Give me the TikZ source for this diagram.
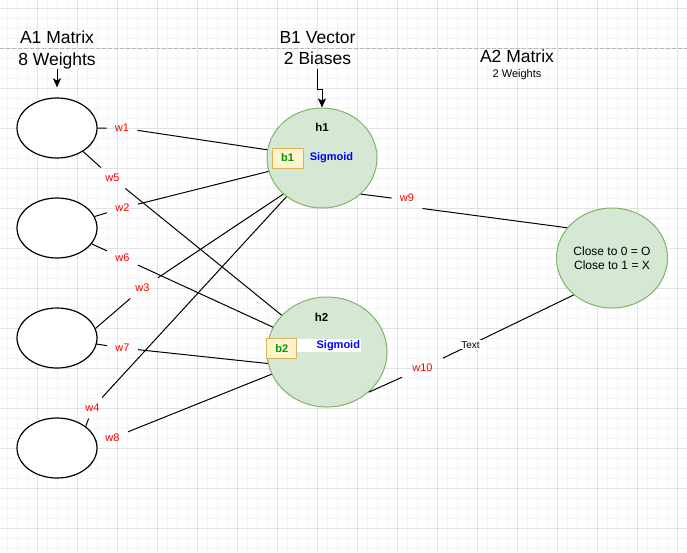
\documentclass[tikz,border=0pt]{standalone}
\usepackage{fontspec}
\setmainfont{Liberation Sans}
\usetikzlibrary{arrows.meta, shapes.geometric}
\definecolor{cgreen}{HTML}{D5E8D4}
\definecolor{cgreenline}{HTML}{82B366}
\definecolor{cyellow}{HTML}{FFF2CC}
\definecolor{cyellowline}{HTML}{D6B656}
\definecolor{cbias}{HTML}{009900}
\definecolor{cred}{HTML}{FF0000}
\definecolor{cblue}{HTML}{0000FF}
\definecolor{cgridmajor}{HTML}{E2E2E2}
\definecolor{cgridminor}{HTML}{F4F4F4}
\definecolor{cpage}{HTML}{B8B8B8}
\tikzset{
  every picture/.style={x=1pt, y=-1pt, line width=1pt},
  inputcell/.style={ellipse, draw=black, fill=white, line width=1.2pt, minimum width=80pt, minimum height=60pt, inner sep=0pt},
  neuron/.style={ellipse, draw=cgreenline, fill=cgreen, align=center, inner sep=0pt, font=\fontsize{12}{14.5}\selectfont},
  biasbox/.style={draw=cyellowline, fill=cyellow, text=cbias, font=\fontsize{11}{13}\selectfont\bfseries, minimum width=31pt, minimum height=20pt, inner sep=0pt},
  sigmoid/.style={text=cblue, font=\fontsize{11}{13}\selectfont\bfseries, inner sep=0pt},
  hname/.style={font=\fontsize{11.5}{13}\selectfont\bfseries, inner sep=0pt},
  weight/.style={text=cred, font=\fontsize{11}{13}\selectfont, minimum width=30pt, minimum height=20pt, inner sep=0pt},
  title/.style={font=\fontsize{17.5}{21.5}\selectfont, align=center, inner sep=0pt},
  conn/.style={draw=black, line width=1pt},
  arrow/.style={-{Stealth[length=9pt, width=8pt, inset=2pt]}, line width=1pt},
}

\begin{document}
\begin{tikzpicture}
  \useasboundingbox (0,0) rectangle (687,552);
  \fill[white] (0,0) rectangle (687,552);
  % page grid, 10px minor and 40px major
  \foreach \x in {7,17,...,687} \draw[cgridminor] (\x,0) -- (\x,552);
  \foreach \y in {8,18,...,548} \draw[cgridminor] (0,\y) -- (687,\y);
  \foreach \x in {37,77,...,677} \draw[cgridmajor] (\x,0) -- (\x,552);
  \foreach \y in {8,48,...,528} \draw[cgridmajor] (0,\y) -- (687,\y);
  \draw[cpage, dash pattern=on 4pt off 2pt] (0,48) -- (687,48);

  \node[title, anchor=north] (a1lbl) at (57,30.5) {A1 Matrix\\8 Weights};
  \node[title, anchor=north] (b1lbl) at (317.5,30.5) {B1 Vector\\2 Biases};
  \node[title] (a2lbl) at (517,56) {A2 Matrix};
  \node[font=\fontsize{11}{13}\selectfont, inner sep=0pt] (a2sub) at (517,75) {2 Weights};

  \node[inputcell] (in1) at (57,128) {};
  \node[inputcell] (in2) at (57,228) {};
  \node[inputcell] (in3) at (57,338) {};
  \node[inputcell] (in4) at (57,448) {};
  \node[neuron, minimum width=110pt, minimum height=100pt] (h1) at (322,158) {};
  \node[neuron, minimum width=120pt, minimum height=110pt] (h2) at (327,352) {};
  \node[neuron, minimum width=111pt, minimum height=100pt] (out) at (612,258) {Close to 0 = O\\Close to 1 = X};

  \node[hname] (h1name) at (322,127) {h1};
  \node[biasbox] (b1) at (287.5,158) {b1};
  \node[sigmoid] (s1) at (331.5,157.5) {Sigmoid};
  \node[hname] (h2name) at (321.5,317.5) {h2};
  \node[sigmoid, fill=white, text width=62pt, align=right, minimum height=13pt, inner sep=1pt] (s2) at (329,345.5) {Sigmoid};
  \node[biasbox, minimum width=30pt] (b2) at (281.7,348.3) {b2};

  \node[weight] (w1) at (122,128) {w1};
  \node[weight] (w5) at (112.5,178) {w5};
  \node[weight] (w2) at (122.5,208) {w2};
  \node[weight] (w6) at (122.5,258) {w6};
  \node[weight] (w3) at (142.5,288) {w3};
  \node[weight] (w7) at (122.5,348) {w7};
  \node[weight] (w4) at (92.5,408) {w4};
  \node[weight] (w8) at (112.5,438) {w8};
  \node[weight] (w9) at (407,198) {w9};
  \node[weight, minimum width=40pt] (w10) at (422.5,368) {w10};

  \draw[arrow, shorten >=10pt] (a1lbl.south) -- (in1.north);
  \draw[arrow, shorten <=3.5pt] (b1lbl.south) -- ++(0,24) -| (h1.north);

  % inputs to hidden layer, each through its weight label
  \draw[conn] (in1) -- (w1) -- (h1);
  \draw[conn] (in1) -- (w5) -- (h2);
  \draw[conn] (in2) -- (w2) -- (h1);
  \draw[conn] (in2) -- (w6) -- (h2);
  \draw[conn] (in3.14) -- (w3) -- (h1.223);
  \draw[conn] (in3) -- (w7) -- (h2.191);
  \draw[conn] (in4.37) -- (w4) -- (h1);
  \draw[conn] (in4) -- (w8) -- (h2);
  % hidden layer to output
  \draw[conn] (h1.-43) -- (w9.west);
  \draw[conn] (w9.south east) -- (out.146);
  \draw[conn] (h2.-44) -- (w10) -- node[pos=0.21, fill=white, font=\fontsize{10}{12}\selectfont, inner sep=1pt] (wtext) {Text} (out.224);
\end{tikzpicture}
\end{document}
